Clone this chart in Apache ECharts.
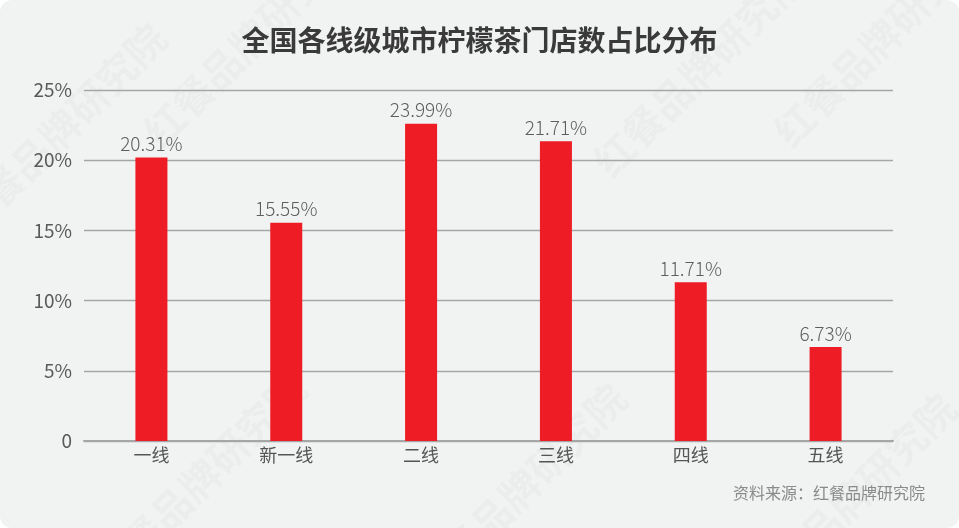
<!DOCTYPE html>
<html><head><meta charset="utf-8">
<script src="https://cdn.jsdelivr.net/npm/echarts@6/dist/echarts.min.js"></script>
<style>
html,body{margin:0;padding:0;background:#ffffff;}
#c{width:959px;height:528px;background:#f1f2f2;border-radius:12px;overflow:hidden;}
</style></head>
<body><div id="c"></div>
<script>
const categories = ['一线', '新一线', '二线', '三线', '四线', '五线'];
const barValues = [20.2, 15.55, 22.6, 21.35, 11.3, 6.7];
const labelTexts = ['20.31%', '15.55%', '23.99%', '21.71%', '11.71%', '6.73%'];
const yTicks = [0, 5, 10, 15, 20, 25];

const FONT = '"Noto Sans CJK SC", "Noto Sans", sans-serif';
const chart = echarts.init(document.getElementById('c'), null, {renderer: 'canvas'});

const wm = [];
const wmPos = [[60, 130], [250, 40], [700, 70], [880, 40], [200, 480], [520, 490], [850, 500]];
wmPos.forEach(p => wm.push({
  type: 'text', x: p[0], y: p[1], rotation: Math.PI / 4, silent: true, z: -10,
  style: {text: '红餐品牌研究院', font: 'bold 40px ' + FONT, fill: 'rgba(0,0,0,0.025)', align: 'center', verticalAlign: 'middle'}
}));

chart.setOption({
  backgroundColor: 'transparent',
  title: {
    text: '全国各线级城市柠檬茶门店数占比分布',
    left: 'center', top: 21,
    textStyle: {fontFamily: FONT, fontSize: 28, fontWeight: 'bold', color: '#3a3a3a'}
  },
  graphic: wm.concat([{
    type: 'text', right: 34, top: 485,
    style: {text: '资料来源：红餐品牌研究院', font: '16px ' + FONT, fill: '#8a8a8a'}
  }]),
  grid: {left: 84, right: 66, top: 90, bottom: 87},
  xAxis: {
    type: 'category', data: categories,
    axisLine: {lineStyle: {color: '#a6a6a6', width: 2}},
    axisTick: {show: false},
    axisLabel: {fontFamily: FONT, fontSize: 18, color: '#555', margin: 5}
  },
  yAxis: {
    type: 'value', min: 0, max: 25, interval: 5,
    axisLine: {show: false}, axisTick: {show: false},
    splitLine: {lineStyle: {color: '#a6a6a6', width: 1.3}},
    axisLabel: {
      fontFamily: FONT, fontSize: 19, color: '#5a5a5a', margin: 12,
      formatter: v => yTicks.includes(v) ? (v === 0 ? '0' : v + '%') : ''
    }
  },
  series: [{
    type: 'bar', data: barValues, barWidth: 32,
    itemStyle: {color: '#ee1c25'},
    label: {
      show: true, position: 'top', distance: 4,
      fontFamily: FONT, fontSize: 19, fontWeight: 300, color: '#5e5e5e',
      formatter: p => labelTexts[p.dataIndex]
    }
  }]
});
</script></body></html>
